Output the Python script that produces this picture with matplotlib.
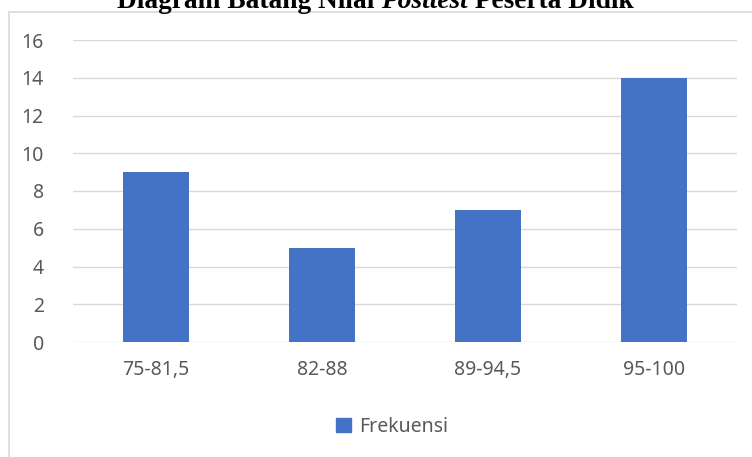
import matplotlib.pyplot as plt
from matplotlib.patches import Rectangle, Patch

kelas = ["75-81,5", "82-88", "89-94,5", "95-100"]
frekuensi = [9, 5, 7, 14]

W, H = 752, 457
fig = plt.figure(figsize=(W / 100, H / 100), dpi=100)
ax = fig.add_axes([73 / W, 1 - 342 / H, (737 - 73) / W, (342 - 40) / H])

ax.bar(kelas, frekuensi, width=0.4, color="#4472C4", zorder=3)
ax.set_ylim(0, 16)
ax.set_xlim(-0.5, len(kelas) - 0.5)
ax.set_yticks(range(0, 17, 2))
ax.grid(axis="y", color="#d9d9d9", linewidth=1, zorder=0)
for s in ax.spines.values():
    s.set_visible(False)
ax.tick_params(axis="both", length=0, colors="#595959", labelsize=14)
ax.tick_params(axis="y", pad=21)
ax.tick_params(axis="x", pad=13)
for lab in ax.get_xticklabels() + ax.get_yticklabels():
    lab.set_fontfamily("Noto Sans")

# chart frame
fig.patches.append(Rectangle((9 / W, -0.1), 1.2, 1 - 12 / H + 0.1, transform=fig.transFigure,
                             fill=False, edgecolor="#d9d9d9", linewidth=1.2))

leg = fig.legend(handles=[Patch(color="#4472C4", label="Frekuensi")], loc="center",
                 bbox_to_anchor=(392 / W, 1 - 427 / H), frameon=False,
                 handlelength=0.75, handleheight=0.75, handletextpad=0.4,
                 prop={"family": "Noto Sans", "size": 14})
for t in leg.get_texts():
    t.set_color("#595959")

# title, partly cut off at the top
parts = [("Diagram Batang Nilai ", "normal"), ("Posttest", "italic"), (" Peserta Didik", "normal")]
fig.canvas.draw()
r = fig.canvas.get_renderer()
texts = []
for s, st in parts:
    t = fig.text(0, 1 - 8 / H, s, fontsize=19.7, fontweight="bold", fontstyle=st,
                 family="Liberation Serif", va="baseline", ha="left")
    texts.append(t)
widths = [t.get_window_extent(r).width for t in texts]
x = 375 - sum(widths) / 2
for t, w in zip(texts, widths):
    t.set_x(x / W)
    x += w

fig.savefig("out.png", dpi=100)
